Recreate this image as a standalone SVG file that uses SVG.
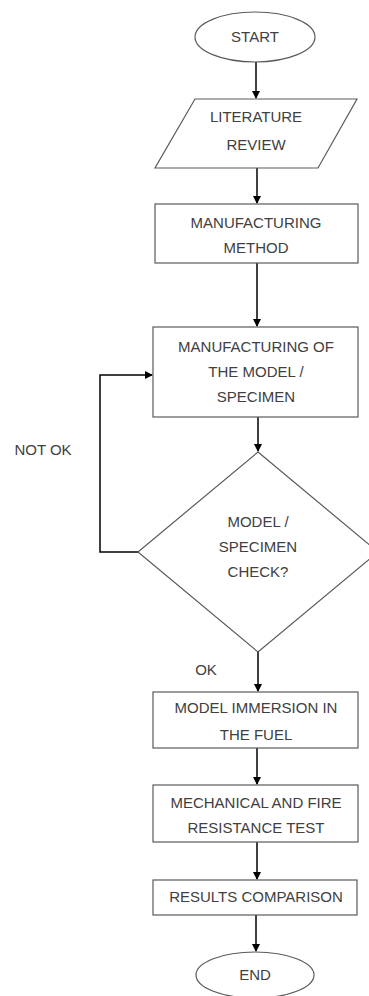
<svg xmlns="http://www.w3.org/2000/svg" width="369" height="996" viewBox="0 0 369 996">
<style>
.s{fill:#fff;stroke:#5a5a5a;stroke-width:1.2}
.t{font-family:"Liberation Sans",Arial,sans-serif;font-size:15px;fill:#404040;text-anchor:middle}
.c{fill:none;stroke:#000;stroke-width:1.5}
</style>
<defs>
<marker id="a" markerWidth="8" markerHeight="8" refX="7" refY="4" orient="auto" markerUnits="userSpaceOnUse">
<path d="M0,0 L8,4 L0,8 z" fill="#000"/>
</marker>
</defs>
<rect width="369" height="996" fill="#fff"/>
<g id="connectors">
<line class="c" x1="256" y1="62" x2="256" y2="98" marker-end="url(#a)"/>
<line class="c" x1="257" y1="168" x2="257" y2="203" marker-end="url(#a)"/>
<line class="c" x1="257" y1="263" x2="257" y2="326" marker-end="url(#a)"/>
<line class="c" x1="258" y1="417" x2="258" y2="451" marker-end="url(#a)"/>
<polyline class="c" points="138,552 100,552 100,375 152,375" marker-end="url(#a)"/>
<line class="c" x1="258" y1="652" x2="258" y2="691" marker-end="url(#a)"/>
<line class="c" x1="257" y1="748" x2="257" y2="784" marker-end="url(#a)"/>
<line class="c" x1="257" y1="842" x2="257" y2="879" marker-end="url(#a)"/>
<line class="c" x1="256" y1="915" x2="256" y2="951" marker-end="url(#a)"/>
<text class="t" x="43" y="455">NOT OK</text>
<text class="t" x="206" y="675">OK</text>
</g>
<g id="start">
<ellipse class="s" cx="255" cy="37" rx="60" ry="25"/>
<text class="t" x="255" y="42">START</text>
</g>
<g id="literature">
<polygon class="s" points="195,99 357,99 318,168 155,168"/>
<text class="t" x="256" y="122">LITERATURE</text>
<text class="t" x="256" y="150">REVIEW</text>
</g>
<g id="method">
<rect class="s" x="155" y="204" width="203" height="59"/>
<text class="t" x="256" y="228">MANUFACTURING</text>
<text class="t" x="256" y="253">METHOD</text>
</g>
<g id="manufacturing">
<rect class="s" x="153" y="327" width="205" height="90"/>
<text class="t" x="256" y="352">MANUFACTURING OF</text>
<text class="t" x="256" y="377">THE MODEL /</text>
<text class="t" x="256" y="402">SPECIMEN</text>
</g>
<g id="check">
<polygon class="s" points="258,452 378,552 258,652 138,552"/>
<text class="t" x="258" y="527">MODEL /</text>
<text class="t" x="258" y="552">SPECIMEN</text>
<text class="t" x="258" y="577">CHECK?</text>
</g>
<g id="immersion">
<rect class="s" x="153" y="692" width="205" height="56"/>
<text class="t" x="256" y="713">MODEL IMMERSION IN</text>
<text class="t" x="256" y="740">THE FUEL</text>
</g>
<g id="test">
<rect class="s" x="153" y="785" width="205" height="57"/>
<text class="t" x="256" y="808">MECHANICAL AND FIRE</text>
<text class="t" x="256" y="833">RESISTANCE TEST</text>
</g>
<g id="results">
<rect class="s" x="153" y="880" width="204" height="35"/>
<text class="t" x="256" y="902">RESULTS COMPARISON</text>
</g>
<g id="end">
<ellipse class="s" cx="255" cy="975" rx="59" ry="23"/>
<text class="t" x="255" y="980">END</text>
</g>
</svg>
